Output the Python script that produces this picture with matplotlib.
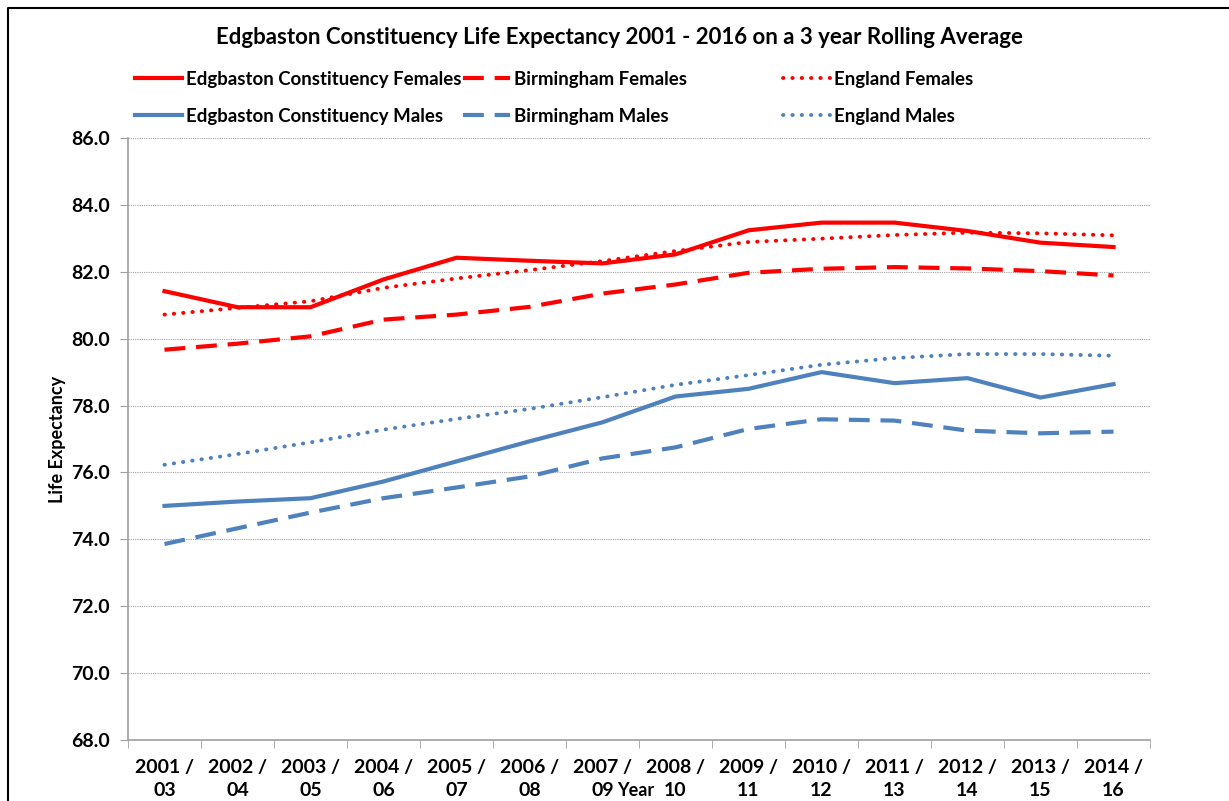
import matplotlib.pyplot as plt
from matplotlib.lines import Line2D

plt.rcParams['font.family'] = ['Lato', 'DejaVu Sans']

periods_top = ["2001 /", "2002 /", "2003 /", "2004 /", "2005 /", "2006 /", "2007 /",
               "2008 /", "2009 /", "2010 /", "2011 /", "2012 /", "2013 /", "2014 /"]
periods_end = ["03", "04", "05", "06", "07", "08", "09",
               "10", "11", "12", "13", "14", "15", "16"]

edg_females = [81.42, 80.94, 80.94, 81.77, 82.42, 82.33, 82.25, 82.52, 83.24, 83.47, 83.47, 83.22, 82.87, 82.74]
brm_females = [79.67, 79.85, 80.07, 80.57, 80.72, 80.95, 81.35, 81.62, 81.97, 82.09, 82.14, 82.10, 82.02, 81.89]
eng_females = [80.72, 80.92, 81.12, 81.52, 81.80, 82.05, 82.32, 82.62, 82.89, 82.99, 83.10, 83.17, 83.15, 83.09]
edg_males = [75.00, 75.13, 75.23, 75.73, 76.33, 76.93, 77.50, 78.27, 78.50, 79.00, 78.67, 78.82, 78.24, 78.64]
brm_males = [73.86, 74.33, 74.80, 75.23, 75.55, 75.88, 76.42, 76.75, 77.30, 77.59, 77.55, 77.25, 77.17, 77.22]
eng_males = [76.23, 76.55, 76.90, 77.28, 77.60, 77.90, 78.25, 78.62, 78.91, 79.22, 79.42, 79.54, 79.54, 79.49]

red = "#FF0000"
blue = "#4F81BD"

fig = plt.figure(figsize=(12.29, 8.01), dpi=100)
ax = fig.add_axes([128 / 1229, 1 - 740 / 801, (1150 - 128) / 1229, (740 - 138) / 801])

x = list(range(len(periods_top)))
lw = 3.0
dash = (0, (5, 2.6))
dot = (0, (0.1, 2.3))

l1, = ax.plot(x, edg_females, color=red, lw=lw, label="Edgbaston Constituency Females")
l2, = ax.plot(x, brm_females, color=red, lw=lw, ls=dash, label="Birmingham Females")
l3, = ax.plot(x, eng_females, color=red, lw=2.8, ls=dot, dash_capstyle="round", label="England Females")
l4, = ax.plot(x, edg_males, color=blue, lw=lw, label="Edgbaston Constituency Males")
l5, = ax.plot(x, brm_males, color=blue, lw=lw, ls=dash, label="Birmingham Males")
l6, = ax.plot(x, eng_males, color=blue, lw=2.8, ls=dot, dash_capstyle="round", label="England Males")

ax.set_xlim(-0.5, len(x) - 0.5)
ax.set_ylim(68, 86)
ax.set_yticks([68 + 2 * i for i in range(10)])
ax.set_yticklabels([f"{68 + 2 * i:.1f}" for i in range(10)], fontsize=14, fontweight="bold")
ax.set_xticks(x)
ax.set_xticklabels(periods_top, fontsize=14, fontweight="bold")
ax.set_xticks([i - 0.5 for i in range(len(x) + 1)], minor=True)
ax.tick_params(axis="x", which="major", length=0, pad=14)
ax.tick_params(axis="x", which="minor", length=6, color="#A0A0A0", direction="out")
ax.tick_params(axis="y", length=6, color="#A0A0A0", direction="out", pad=7)

# second line of the period labels
sec = ax.secondary_xaxis("bottom")
sec.set_xticks(x)
sec.set_xticklabels(periods_end, fontsize=14, fontweight="bold")
sec.tick_params(axis="x", length=0, pad=30.5)
sec.spines["bottom"].set_visible(False)

ax.grid(axis="y", color="#A0A0A0", ls=(0, (1, 1)), lw=0.8)
ax.set_axisbelow(True)
for s in ["top", "right"]:
    ax.spines[s].set_visible(False)
for s in ["left", "bottom"]:
    ax.spines[s].set_color("#A0A0A0")
    ax.spines[s].set_linewidth(1.2)

ax.set_ylabel("Life Expectancy", fontsize=13, fontweight="bold", labelpad=4)
fig.text(636 / 1229, 1 - 790 / 801, "Year", fontsize=13, fontweight="bold", ha="center", va="center")

fig.text(620 / 1229, 1 - 37 / 801,
         "Edgbaston Constituency Life Expectancy 2001 - 2016 on a 3 year Rolling Average",
         fontsize=16, fontweight="bold", ha="center", va="center")

# legend: three columns placed like the original
cols = [([l1, l4], 135), ([l2, l5], 463), ([l3, l6], 783)]
for handles, xpos in cols:
    fig.legend(handles=handles, loc="upper left",
               bbox_to_anchor=(xpos / 1229, 1 - 71 / 801),
               frameon=False, prop={"weight": "bold", "size": 13.4},
               handlelength=2.5, handletextpad=0.25, labelspacing=1.05,
               borderpad=0, borderaxespad=0)

# outer chart border (top and left)
fig.add_artist(Line2D([8 / 1229, 8 / 1229, 1], [0, 1 - 8 / 801, 1 - 8 / 801],
                      transform=fig.transFigure, color="black", lw=1.5))

fig.savefig("out.png", dpi=100)
